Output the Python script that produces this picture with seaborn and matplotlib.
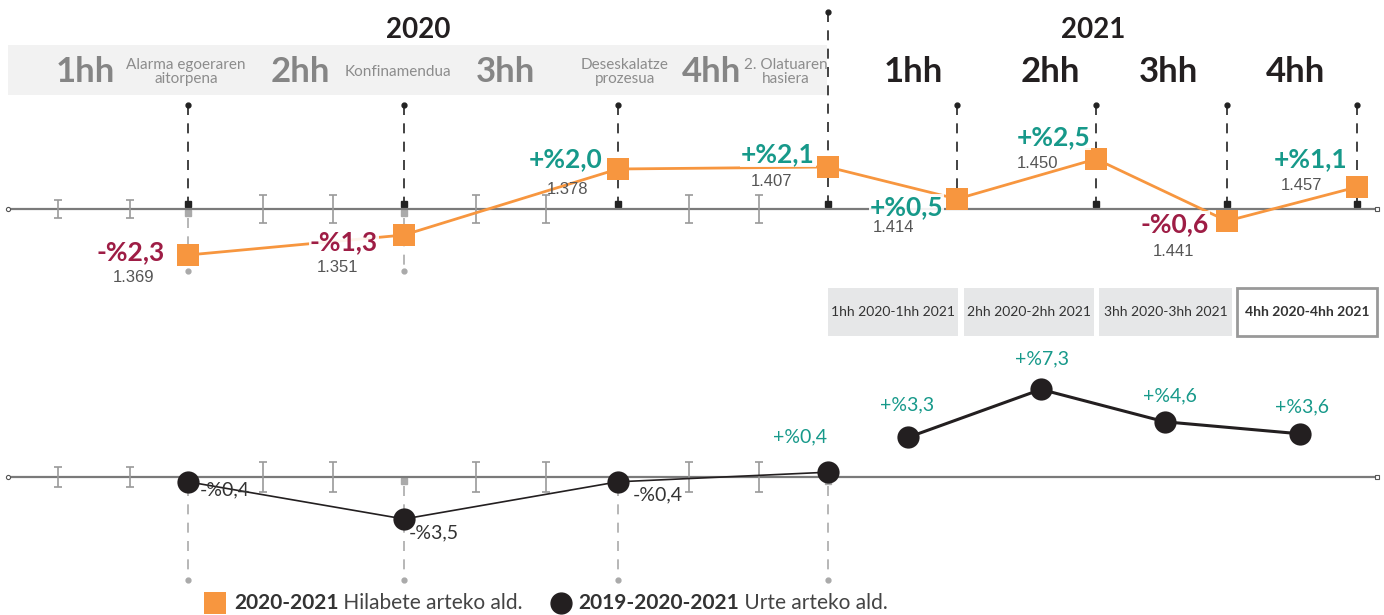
import matplotlib.pyplot as plt
import seaborn as sns
from matplotlib.patches import Rectangle

# ---- data ----
periods = ["2020 1hh", "2020 2hh", "2020 3hh", "2020 4hh",
           "2021 1hh", "2021 2hh", "2021 3hh", "2021 4hh"]
quarter_labels = ["1hh", "2hh", "3hh", "4hh"]
events_2020 = ["Alarma egoeraren\naitorpena", "Konfinamendua",
               "Deseskalatze\nprozesua", "2. Olatuaren\nhasiera"]
monthly_change = [-2.3, -1.3, 2.0, 2.1, 0.5, 2.5, -0.6, 1.1]
monthly_total = [1369, 1351, 1378, 1407, 1414, 1450, 1441, 1457]
annual_change = [-0.4, -3.5, -0.4, 0.4, 3.3, 7.3, 4.6, 3.6]
compare_labels = ["1hh 2020-1hh 2021", "2hh 2020-2hh 2021",
                  "3hh 2020-3hh 2021", "4hh 2020-4hh 2021"]
legend_years = ["2020-2021", "2019-2020-2021"]
legend_names = ["Hilabete arteko ald.", "Urte arteko ald."]

# ---- layout (pixels on a 1384x615 canvas) ----
W, H = 1384, 615
top_x = [188, 404, 618, 828, 957, 1096, 1227, 1357]
bot_x = [188, 404, 618, 828, 908, 1041, 1165, 1300]
month_ticks_x = [58, 130, 263, 333, 476, 546, 689, 759]
label_x_2020 = [85, 300, 505, 712]
event_x_2020 = [186, 398, 625, 786]
label_x_2021 = [913, 1050, 1168, 1296]
buttons = [(828, 130), (964, 130), (1099, 133), (1237, 140)]

# offsets in pixels (dx, dy up) from each marker
change_off = [(-23, 3), (-26, -7), (-16, 10), (-13, 13),
              (-14, -8), (-6, 22), (-18, -3), (-10, 28)]
total_off = [(-54, -23), (-66, -33), (-50, -21), (-56, -15),
             (-64, -29), (-58, -4), (-53, -31), (-56, 2)]
annual_off = [(12, -8), (5, -14), (15, -13), (-28, 35),
              (-1, 33), (1, 31), (5, 26), (2, 27)]

ORANGE = "#f7963f"
TEAL = "#17998a"
RED = "#9e1d45"
DARK = "#231f20"
GREY = "#9a9a9a"


def pct(v):
    sign = "+" if v > 0 else "-"
    return f"{sign}%{abs(v):.1f}".replace(".", ",")


def thousands(v):
    return f"{v:,}".replace(",", ".")


sns.set_theme(style="white")
plt.rcParams["font.family"] = ["Lato", "DejaVu Sans"]

fig = plt.figure(figsize=(W / 100, H / 100), dpi=100)
bg = fig.add_axes([0, 0, 1, 1])
bg.set_xlim(0, W)
bg.set_ylim(H, 0)
bg.axis("off")


def data_axes(zero, scale, y_top, y_bot):
    ax = fig.add_axes([0, 1 - y_bot / H, 1, (y_bot - y_top) / H])
    ax.set_xlim(0, W)
    ax.set_ylim(-(y_bot - zero) / scale, (zero - y_top) / scale)
    ax.axis("off")
    return ax


# ---- header ----
bg.add_patch(Rectangle((8, 45), 819, 50, fc="#f2f2f2", ec="none", zorder=0))
bg.text(418, 30, "2020", ha="center", va="center", fontsize=20,
        fontweight="bold", color=DARK)
bg.text(1093, 30, "2021", ha="center", va="center", fontsize=20,
        fontweight="bold", color=DARK)
for x, lab in zip(label_x_2020, quarter_labels):
    bg.text(x, 72, lab, ha="center", va="center", fontsize=25,
            fontweight="bold", color="#858585")
for x, ev in zip(event_x_2020, events_2020):
    bg.text(x, 72, ev, ha="center", va="center", fontsize=11,
            color="#8c8c8c", linespacing=0.95)
for x, lab in zip(label_x_2021, quarter_labels):
    bg.text(x, 72, lab, ha="center", va="center", fontsize=25,
            fontweight="bold", color=DARK)

# ---- guide lines ----
dash = (0, (6, 5))
for i, x in enumerate(top_x):
    y0 = 12 if i == 3 else 105
    bg.plot([x, x], [y0, 202], color="#222222", lw=1.2, ls=dash, zorder=1)
    bg.plot(x, y0, "o", ms=3.5, color="#222222", zorder=1)
    bg.plot(x, 204, "s", ms=5, color="#222222", zorder=1)
for x in top_x[:2]:
    bg.plot(x, 213, "s", ms=4.5, color="#aaaaaa", zorder=1)
    bg.plot([x, x], [218, 268], color="#aaaaaa", lw=1.2, ls=dash, zorder=1)
    bg.plot(x, 271, "o", ms=3.5, color="#aaaaaa", zorder=1)
for x in top_x[:4]:
    bg.plot(x, 481, "s", ms=4.5, color="#aaaaaa", zorder=1)
    bg.plot([x, x], [486, 577], color="#aaaaaa", lw=1.2, ls=dash, zorder=1)
    bg.plot(x, 580, "o", ms=3.5, color="#aaaaaa", zorder=1)

# ---- compare buttons ----
for i, ((x, w), lab) in enumerate(zip(buttons, compare_labels)):
    last = i == len(buttons) - 1
    bg.add_patch(Rectangle((x, 288), w, 48, fc="white" if last else "#e6e7e8",
                           ec="#999999" if last else "none", lw=2, zorder=0))
    bg.text(x + w / 2, 312, lab, ha="center", va="center", fontsize=10,
            color="#333333", fontweight="bold" if last else "normal")

# ---- legend ----
bg.add_patch(Rectangle((204, 592), 22, 22, fc=ORANGE, ec="none"))
bg.plot(561, 603, "o", ms=15, color=DARK)
for x, year, name in zip([234, 578], legend_years, legend_names):
    t = bg.text(x, 603, year, ha="left", va="center", fontsize=15,
                fontweight="bold", color="#333333")
    bg.annotate(" " + name, xy=(1, 0.5), xycoords=t, ha="left", va="center",
                fontsize=15, color="#444444")

# ---- top panel: monthly change ----
ax_t = data_axes(zero=209, scale=20, y_top=100, y_bot=290)
ax_t.plot([8, 1377], [0, 0], color="#7a7a7a", lw=1.6, zorder=1)
ax_t.plot(8, 0, "o", ms=3, mfc="white", mec="#555555", mew=0.8)
ax_t.plot(1377, 0, "s", ms=3, mfc="white", mec="#555555", mew=0.8)
ax_t.errorbar(month_ticks_x, [0] * len(month_ticks_x),
              yerr=[9 / 20] * 2 + [14 / 20] * 6, fmt="none", ecolor=GREY,
              elinewidth=1.2, capsize=2.6, capthick=1.2, zorder=1)
sns.lineplot(x=top_x, y=monthly_change, ax=ax_t, color=ORANGE, lw=2,
             marker="s", markersize=16, markeredgewidth=0, zorder=3)
for x, v, tot, (cdx, cdy), (tdx, tdy) in zip(top_x, monthly_change,
                                            monthly_total, change_off, total_off):
    ax_t.annotate(pct(v), (x, v), xytext=(cdx, cdy), textcoords="offset pixels",
                  ha="right", va="center", fontsize=19, fontweight="bold",
                  color=TEAL if v > 0 else RED, zorder=4,
                  bbox=dict(fc="white", ec="none", pad=0.5, alpha=0.9))
    ax_t.annotate(thousands(tot), (x, v), xytext=(tdx, tdy),
                  textcoords="offset pixels", ha="center", va="center",
                  fontsize=12, color="#555555", family="Liberation Sans",
                  zorder=4)

# ---- bottom panel: annual change ----
ax_b = data_axes(zero=477, scale=12, y_top=365, y_bot=600)
ax_b.plot([8, 1377], [0, 0], color="#7a7a7a", lw=1.6, zorder=1)
ax_b.plot(8, 0, "o", ms=3, mfc="white", mec="#555555", mew=0.8)
ax_b.plot(1377, 0, "s", ms=3, mfc="white", mec="#555555", mew=0.8)
ax_b.errorbar(month_ticks_x, [0] * len(month_ticks_x),
              yerr=[10 / 12] * 2 + [15 / 12] * 6, fmt="none", ecolor=GREY,
              elinewidth=1.2, capsize=2.6, capthick=1.2, zorder=1)
sns.lineplot(x=bot_x[:4], y=annual_change[:4], ax=ax_b, color=DARK, lw=1.2,
             marker="o", markersize=16, markeredgewidth=0, zorder=3)
sns.lineplot(x=bot_x[4:], y=annual_change[4:], ax=ax_b, color=DARK, lw=2.2,
             marker="o", markersize=16, markeredgewidth=0, zorder=3)
for x, v, (dx, dy) in zip(bot_x, annual_change, annual_off):
    ax_b.annotate(pct(v), (x, v), xytext=(dx, dy), textcoords="offset pixels",
                  ha="center" if v > 0 else "left", va="center", fontsize=14,
                  color=TEAL if v > 0 else "#333333", zorder=4)

fig.savefig("out.png", dpi=100)
